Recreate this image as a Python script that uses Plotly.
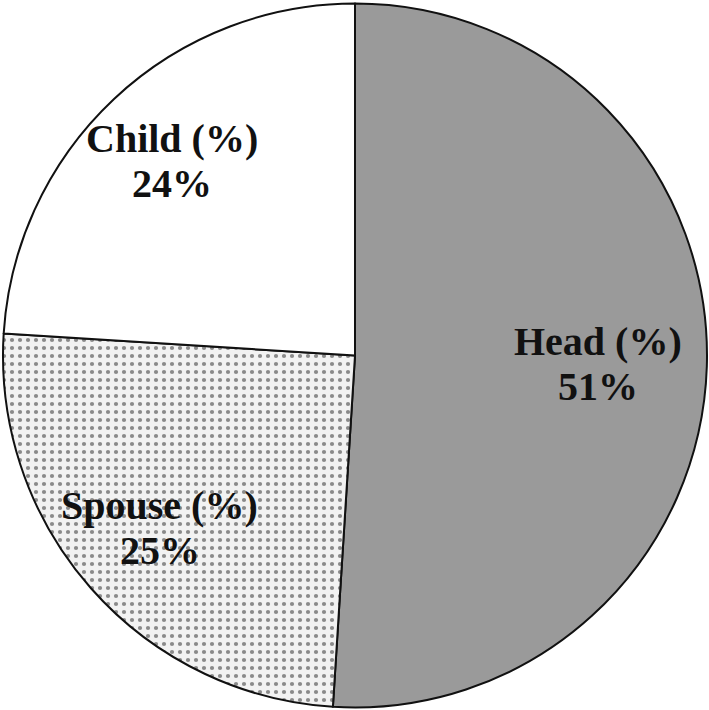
import math
import plotly.graph_objects as go

labels = ["Head", "Spouse", "Child"]
values = [51, 25, 24]
fills = ["#9a9a9a", "#f2f2f2", "#ffffff"]
shapes = ["", ".", ""]
label_radius = [0.69, 0.74, 0.76]   # where each label sits, as a share of the radius

W, H = 709, 710
ml, mr, mt, mb = 3, 2, 3, 2
plot_w = W - ml - mr
plot_h = H - mt - mb
r_px = min(plot_w, plot_h) / 2

fig = go.Figure(data=[go.Pie(
    labels=labels,
    values=values,
    sort=False,
    direction="clockwise",
    rotation=0,
    marker=dict(
        colors=fills,
        line=dict(color="#111111", width=2),
        pattern=dict(shape=shapes, fgcolor="#222222", bgcolor=fills,
                     size=8, solidity=0.22, fillmode="overlay"),
    ),
    textinfo="none",
    hoverinfo="none",
    showlegend=False,
)])

# labels at the middle angle of each slice
total = sum(values)
start = 0
font = dict(family="Liberation Serif", size=40, color="#111111")
for lab, v, rf in zip(labels, values, label_radius):
    mid = (start + v / 2) / total * 2 * math.pi
    start += v
    dx = math.sin(mid) * r_px * rf
    dy = math.cos(mid) * r_px * rf
    x = 0.5 + dx / plot_w
    y = 0.5 + dy / plot_h
    pct = round(v / total * 100)
    fig.add_annotation(x=x, y=y, xref="paper", yref="paper", showarrow=False,
                       xanchor="center", yanchor="middle",
                       text="<b>" + lab + " (%)</b>", font=font, yshift=22)
    fig.add_annotation(x=x, y=y, xref="paper", yref="paper", showarrow=False,
                       xanchor="center", yanchor="middle",
                       text="<b>" + str(pct) + "%</b>", font=font, yshift=-23)

fig.update_layout(
    width=W, height=H,
    margin=dict(l=ml, r=mr, t=mt, b=mb),
    paper_bgcolor="white",
    plot_bgcolor="white",
)

fig.write_html("out.html", config={"displayModeBar": False},
               post_script="document.body.style.margin='0';")
